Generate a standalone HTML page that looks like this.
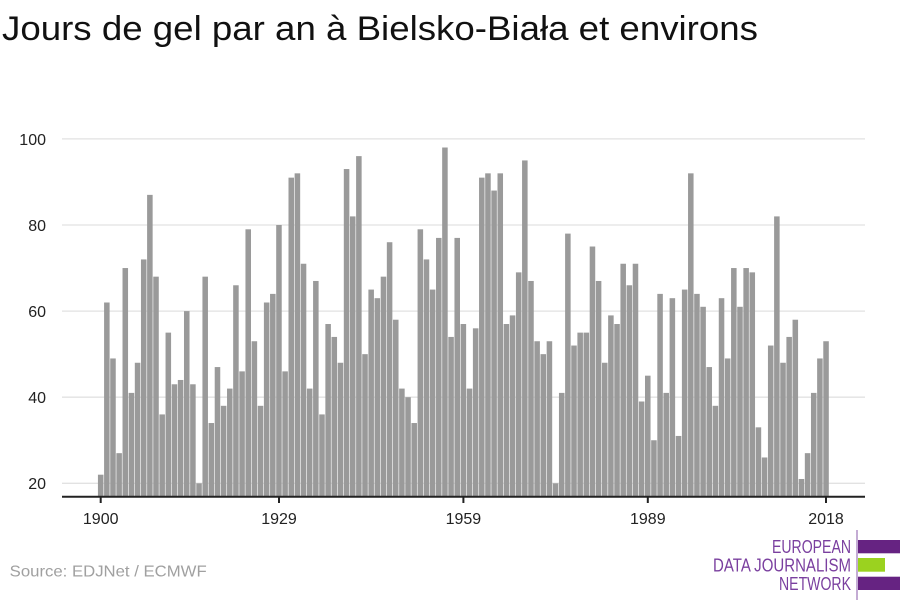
<!DOCTYPE html>
<html><head><meta charset="utf-8"><style>
html,body{margin:0;padding:0;background:#fff;}
svg{display:block;font-family:"Liberation Sans",sans-serif;}
</style></head><body>
<svg width="900" height="600" viewBox="0 0 900 600" xmlns="http://www.w3.org/2000/svg">
<rect width="900" height="600" fill="#fff"/>
<text x="2" y="40" font-size="34" fill="#111" textLength="756" lengthAdjust="spacingAndGlyphs">Jours de gel par an à Bielsko-Biała et environs</text>
<g stroke="#e2e2e2" stroke-width="1.3">
<line x1="62" x2="865" y1="138.9" y2="138.9"/>
<line x1="62" x2="865" y1="225.0" y2="225.0"/>
<line x1="62" x2="865" y1="311.1" y2="311.1"/>
<line x1="62" x2="865" y1="397.2" y2="397.2"/>
<line x1="62" x2="865" y1="483.3" y2="483.3"/>
</g>
<g font-size="16" fill="#222" text-anchor="end">
<text x="46" y="145">100</text>
<text x="46" y="231">80</text>
<text x="46" y="317">60</text>
<text x="46" y="403">40</text>
<text x="46" y="489">20</text>
</g>
<defs><clipPath id="c"><rect x="0" y="0" width="900" height="496"/></clipPath></defs>
<g clip-path="url(#c)">
<g transform="translate(0,569.4) scale(1,-4.305)" fill="#9a9a9a">
<rect x="97.93" y="0" width="5.53" height="22"/>
<rect x="104.08" y="0" width="5.53" height="62"/>
<rect x="110.22" y="0" width="5.53" height="49"/>
<rect x="116.37" y="0" width="5.53" height="27"/>
<rect x="122.52" y="0" width="5.53" height="70"/>
<rect x="128.67" y="0" width="5.53" height="41"/>
<rect x="134.81" y="0" width="5.53" height="48"/>
<rect x="140.96" y="0" width="5.53" height="72"/>
<rect x="147.11" y="0" width="5.53" height="87"/>
<rect x="153.25" y="0" width="5.53" height="68"/>
<rect x="159.40" y="0" width="5.53" height="36"/>
<rect x="165.55" y="0" width="5.53" height="55"/>
<rect x="171.69" y="0" width="5.53" height="43"/>
<rect x="177.84" y="0" width="5.53" height="44"/>
<rect x="183.99" y="0" width="5.53" height="60"/>
<rect x="190.14" y="0" width="5.53" height="43"/>
<rect x="196.28" y="0" width="5.53" height="20"/>
<rect x="202.43" y="0" width="5.53" height="68"/>
<rect x="208.58" y="0" width="5.53" height="34"/>
<rect x="214.72" y="0" width="5.53" height="47"/>
<rect x="220.87" y="0" width="5.53" height="38"/>
<rect x="227.02" y="0" width="5.53" height="42"/>
<rect x="233.16" y="0" width="5.53" height="66"/>
<rect x="239.31" y="0" width="5.53" height="46"/>
<rect x="245.46" y="0" width="5.53" height="79"/>
<rect x="251.61" y="0" width="5.53" height="53"/>
<rect x="257.75" y="0" width="5.53" height="38"/>
<rect x="263.90" y="0" width="5.53" height="62"/>
<rect x="270.05" y="0" width="5.53" height="64"/>
<rect x="276.19" y="0" width="5.53" height="80"/>
<rect x="282.34" y="0" width="5.53" height="46"/>
<rect x="288.49" y="0" width="5.53" height="91"/>
<rect x="294.63" y="0" width="5.53" height="92"/>
<rect x="300.78" y="0" width="5.53" height="71"/>
<rect x="306.93" y="0" width="5.53" height="42"/>
<rect x="313.08" y="0" width="5.53" height="67"/>
<rect x="319.22" y="0" width="5.53" height="36"/>
<rect x="325.37" y="0" width="5.53" height="57"/>
<rect x="331.52" y="0" width="5.53" height="54"/>
<rect x="337.66" y="0" width="5.53" height="48"/>
<rect x="343.81" y="0" width="5.53" height="93"/>
<rect x="349.96" y="0" width="5.53" height="82"/>
<rect x="356.10" y="0" width="5.53" height="96"/>
<rect x="362.25" y="0" width="5.53" height="50"/>
<rect x="368.40" y="0" width="5.53" height="65"/>
<rect x="374.55" y="0" width="5.53" height="63"/>
<rect x="380.69" y="0" width="5.53" height="68"/>
<rect x="386.84" y="0" width="5.53" height="76"/>
<rect x="392.99" y="0" width="5.53" height="58"/>
<rect x="399.13" y="0" width="5.53" height="42"/>
<rect x="405.28" y="0" width="5.53" height="40"/>
<rect x="411.43" y="0" width="5.53" height="34"/>
<rect x="417.57" y="0" width="5.53" height="79"/>
<rect x="423.72" y="0" width="5.53" height="72"/>
<rect x="429.87" y="0" width="5.53" height="65"/>
<rect x="436.02" y="0" width="5.53" height="77"/>
<rect x="442.16" y="0" width="5.53" height="98"/>
<rect x="448.31" y="0" width="5.53" height="54"/>
<rect x="454.46" y="0" width="5.53" height="77"/>
<rect x="460.60" y="0" width="5.53" height="57"/>
<rect x="466.75" y="0" width="5.53" height="42"/>
<rect x="472.90" y="0" width="5.53" height="56"/>
<rect x="479.04" y="0" width="5.53" height="91"/>
<rect x="485.19" y="0" width="5.53" height="92"/>
<rect x="491.34" y="0" width="5.53" height="88"/>
<rect x="497.49" y="0" width="5.53" height="92"/>
<rect x="503.63" y="0" width="5.53" height="57"/>
<rect x="509.78" y="0" width="5.53" height="59"/>
<rect x="515.93" y="0" width="5.53" height="69"/>
<rect x="522.07" y="0" width="5.53" height="95"/>
<rect x="528.22" y="0" width="5.53" height="67"/>
<rect x="534.37" y="0" width="5.53" height="53"/>
<rect x="540.51" y="0" width="5.53" height="50"/>
<rect x="546.66" y="0" width="5.53" height="53"/>
<rect x="552.81" y="0" width="5.53" height="20"/>
<rect x="558.96" y="0" width="5.53" height="41"/>
<rect x="565.10" y="0" width="5.53" height="78"/>
<rect x="571.25" y="0" width="5.53" height="52"/>
<rect x="577.40" y="0" width="5.53" height="55"/>
<rect x="583.54" y="0" width="5.53" height="55"/>
<rect x="589.69" y="0" width="5.53" height="75"/>
<rect x="595.84" y="0" width="5.53" height="67"/>
<rect x="601.98" y="0" width="5.53" height="48"/>
<rect x="608.13" y="0" width="5.53" height="59"/>
<rect x="614.28" y="0" width="5.53" height="57"/>
<rect x="620.43" y="0" width="5.53" height="71"/>
<rect x="626.57" y="0" width="5.53" height="66"/>
<rect x="632.72" y="0" width="5.53" height="71"/>
<rect x="638.87" y="0" width="5.53" height="39"/>
<rect x="645.01" y="0" width="5.53" height="45"/>
<rect x="651.16" y="0" width="5.53" height="30"/>
<rect x="657.31" y="0" width="5.53" height="64"/>
<rect x="663.45" y="0" width="5.53" height="41"/>
<rect x="669.60" y="0" width="5.53" height="63"/>
<rect x="675.75" y="0" width="5.53" height="31"/>
<rect x="681.90" y="0" width="5.53" height="65"/>
<rect x="688.04" y="0" width="5.53" height="92"/>
<rect x="694.19" y="0" width="5.53" height="64"/>
<rect x="700.34" y="0" width="5.53" height="61"/>
<rect x="706.48" y="0" width="5.53" height="47"/>
<rect x="712.63" y="0" width="5.53" height="38"/>
<rect x="718.78" y="0" width="5.53" height="63"/>
<rect x="724.92" y="0" width="5.53" height="49"/>
<rect x="731.07" y="0" width="5.53" height="70"/>
<rect x="737.22" y="0" width="5.53" height="61"/>
<rect x="743.37" y="0" width="5.53" height="70"/>
<rect x="749.51" y="0" width="5.53" height="69"/>
<rect x="755.66" y="0" width="5.53" height="33"/>
<rect x="761.81" y="0" width="5.53" height="26"/>
<rect x="767.95" y="0" width="5.53" height="52"/>
<rect x="774.10" y="0" width="5.53" height="82"/>
<rect x="780.25" y="0" width="5.53" height="48"/>
<rect x="786.39" y="0" width="5.53" height="54"/>
<rect x="792.54" y="0" width="5.53" height="58"/>
<rect x="798.69" y="0" width="5.53" height="21"/>
<rect x="804.84" y="0" width="5.53" height="27"/>
<rect x="810.98" y="0" width="5.53" height="41"/>
<rect x="817.13" y="0" width="5.53" height="49"/>
<rect x="823.28" y="0" width="5.53" height="53"/>
</g>
</g>
<line x1="62" x2="865" y1="496.7" y2="496.7" stroke="#222" stroke-width="2"/>
<g stroke="#222" stroke-width="2">
<line x1="100.7" x2="100.7" y1="496" y2="503"/>
<line x1="279.0" x2="279.0" y1="496" y2="503"/>
<line x1="463.4" x2="463.4" y1="496" y2="503"/>
<line x1="647.8" x2="647.8" y1="496" y2="503"/>
<line x1="826.0" x2="826.0" y1="496" y2="503"/>
</g>
<g font-size="16" fill="#222" text-anchor="middle">
<text x="100.7" y="524">1900</text>
<text x="279.0" y="524">1929</text>
<text x="463.4" y="524">1959</text>
<text x="647.8" y="524">1989</text>
<text x="826.0" y="524">2018</text>
</g>
<text x="9.7" y="576.7" font-size="16" fill="#a0a0a0" textLength="197" lengthAdjust="spacingAndGlyphs">Source: EDJNet / ECMWF</text>
<line x1="857" x2="857" y1="530" y2="600" stroke="#8a5aa8" stroke-width="1"/>
<rect x="858" y="540" width="42" height="13.3" fill="#662382"/>
<rect x="858" y="558" width="27" height="13.7" fill="#9bd21f"/>
<rect x="858" y="576.7" width="42" height="13.3" fill="#662382"/>
<g font-size="18" fill="#7a3f9f" text-anchor="end">
<text x="851" y="553" textLength="79" lengthAdjust="spacingAndGlyphs">EUROPEAN</text>
<text x="851" y="571.5" textLength="138" lengthAdjust="spacingAndGlyphs">DATA JOURNALISM</text>
<text x="851" y="590" textLength="72" lengthAdjust="spacingAndGlyphs">NETWORK</text>
</g>
</svg>
</body></html>
